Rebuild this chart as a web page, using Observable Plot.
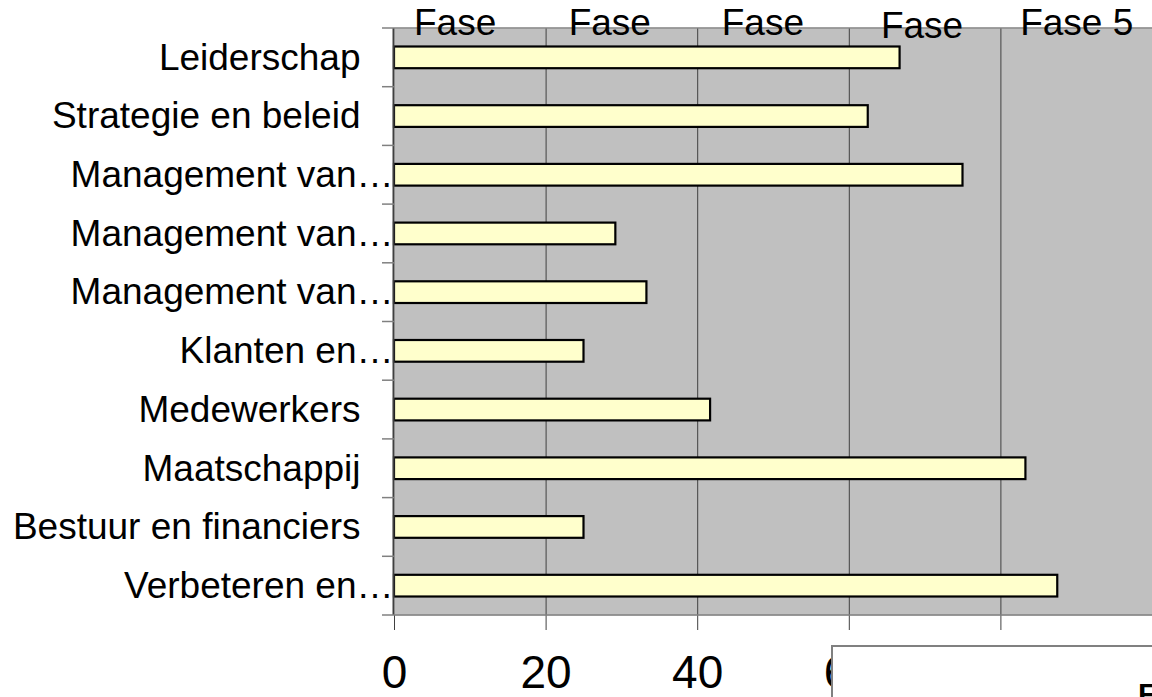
<!DOCTYPE html>
<html>
<head>
<meta charset="utf-8">
<script src="https://cdn.jsdelivr.net/npm/d3@7"></script>
<script src="https://cdn.jsdelivr.net/npm/@observablehq/plot@0.6"></script>
<style>
  html, body { margin: 0; padding: 0; background: #fff; overflow: hidden; }
  #wrap { position: relative; width: 1152px; height: 697px; overflow: hidden; font-family: "Liberation Sans", Arial, sans-serif; }
  #legendBox { position: absolute; left: 831px; top: 645px; width: 400px; height: 120px; background: #fff;
    border-top: 2px solid #808080; border-left: 2px solid #808080; box-sizing: border-box; }
  #legendBox span { position: absolute; left: 305px; top: 30px; font-weight: bold; font-size: 30px; color: #000; white-space: nowrap; }
</style>
</head>
<body>
<div id="wrap"></div>
<script>
const categories = ["Leiderschap", "Strategie en beleid", "Management van…", "Management van…", "Management van…",
  "Klanten en…", "Medewerkers", "Maatschappij", "Bestuur en financiers", "Verbeteren en…"];
const scores = [66.7, 62.5, 75, 29.2, 33.3, 25, 41.7, 83.3, 25, 87.5];
const xTicks = [0, 20, 40, 60, 80, 100];
const gridTicks = [20, 40, 60, 80];
const phaseLabels = ["Fase", "Fase", "Fase", "Fase", "Fase 5"];
const phaseCenters = [8, 28.4, 48.6, 69.6, 90];
const legendText = "Fase";

const data = categories.map((c, i) => ({idx: i, label: c, value: scores[i]}));
const phases = phaseLabels.map((t, i) => ({text: t, x: phaseCenters[i], i}));
const idxs = d3.range(categories.length);
const fullIdx = idxs.filter(i => !categories[i].endsWith("…"));
const truncIdx = idxs.filter(i => categories[i].endsWith("…"));

const font = "Liberation Sans, Arial, sans-serif";

const plot = Plot.plot({
  width: 1152,
  height: 697,
  marginTop: 28,
  marginLeft: 394,
  marginRight: 0,
  marginBottom: 82,
  style: {fontFamily: font, background: "transparent", color: "#000", overflow: "visible"},
  x: {domain: [0, 100]},
  y: {type: "band", domain: idxs, padding: 0, round: false},
  marks: [
    Plot.frame({fill: "#c0c0c0", stroke: null}),
    Plot.gridX({ticks: gridTicks, stroke: "#404040", strokeOpacity: 1, strokeWidth: 1}),
    Plot.barX(data, {x: "value", y: "idx", fill: "#ffffcc", stroke: "#000", strokeWidth: 2.2, insetTop: 18.5, insetBottom: 18.5}),
    Plot.ruleX([0], {stroke: "#404040", strokeWidth: 2, dx: -1}),
    Plot.axisX({ticks: xTicks, tickSize: 15, tickPadding: 25, fontSize: 46, stroke: "#404040", fill: "#000", tickFormat: d => String(d), label: null}),
    Plot.axisY({ticks: fullIdx, tickFormat: i => categories[i], tickSize: 0, tickPadding: 34, fontSize: 37, fill: "#000", label: null}),
    Plot.axisY({ticks: truncIdx, tickFormat: i => categories[i], tickSize: 0, tickPadding: 1, fontSize: 37, fill: "#000", label: null}),
    Plot.text(phases.filter(d => d.i !== 3), {x: "x", text: "text", frameAnchor: "top", lineAnchor: "bottom", dy: 6, fontSize: 37, fill: "#000", textAnchor: "middle"}),
    Plot.text(phases.filter(d => d.i === 3), {x: "x", text: "text", frameAnchor: "top", lineAnchor: "bottom", dy: 9, fontSize: 37, fill: "#000", textAnchor: "middle"})
  ]
});

// Excel-style category boundary ticks and plot-area top/bottom borders, placed with Plot's own scales
const ys = plot.scale("y");
const xs = plot.scale("x");
const x0 = xs.apply(0);
const bw = ys.bandwidth;
const bounds = idxs.map(i => ys.apply(i)).concat([ys.apply(idxs[idxs.length - 1]) + bw]);
const svg = d3.select(plot.tagName.toLowerCase() === "svg" ? plot : plot.querySelector("svg"));
const g = svg.append("g").attr("stroke", "#808080").attr("stroke-width", 1.5);
bounds.forEach(yv => {
  g.append("line").attr("x1", x0 - 12).attr("x2", x0).attr("y1", yv).attr("y2", yv);
});
[bounds[0], bounds[bounds.length - 1]].forEach(yv => {
  g.append("line").attr("x1", x0).attr("x2", xs.apply(100)).attr("y1", yv).attr("y2", yv);
});
// bring text above the border lines
svg.selectAll("g[aria-label='text']").raise();

const wrap = document.getElementById("wrap");
wrap.appendChild(plot);
const box = document.createElement("div");
box.id = "legendBox";
const span = document.createElement("span");
span.textContent = legendText;
box.appendChild(span);
wrap.appendChild(box);
</script>
</body>
</html>
